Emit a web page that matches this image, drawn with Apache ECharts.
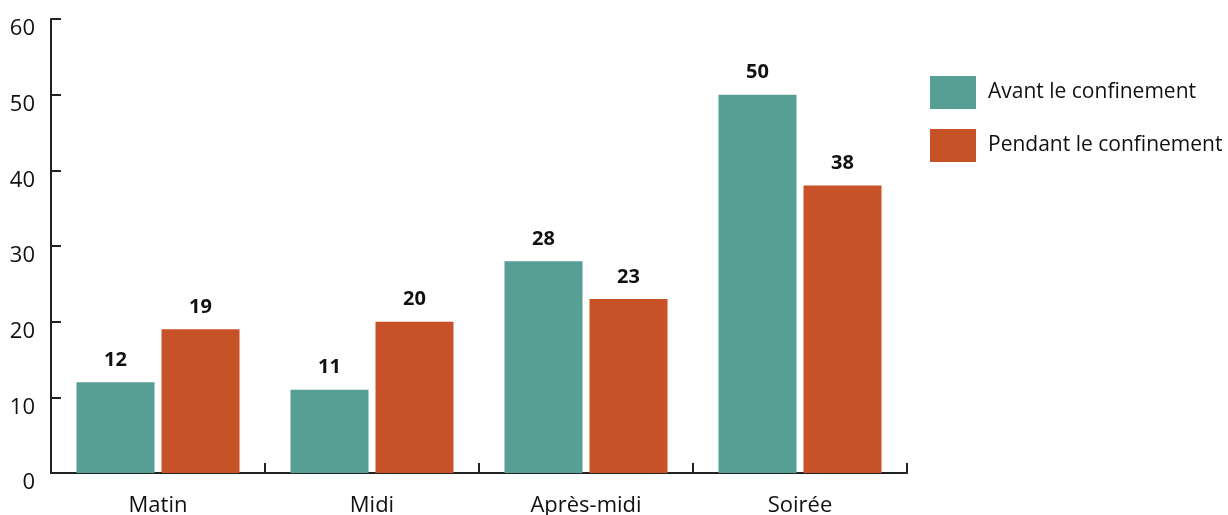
<!DOCTYPE html>
<html>
<head>
<meta charset="utf-8">
<script src="https://cdn.jsdelivr.net/npm/echarts@6/dist/echarts.min.js"></script>
<style>
  html, body { margin: 0; padding: 0; background: #fff; }
  #chart { width: 1228px; height: 515px; }
</style>
</head>
<body>
<div id="chart"></div>
<script>
const categories = ['Matin', 'Midi', 'Après-midi', 'Soirée']
const avant = [12, 11, 28, 50]
const pendant = [19, 20, 23, 38]
const seriesNames = ['Avant le confinement', 'Pendant le confinement']

const font = '"Open Sans", "Noto Sans", sans-serif'
const chart = echarts.init(document.getElementById('chart'))

const barLabel = {
  show: true,
  position: 'top',
  distance: 12,
  fontFamily: font,
  fontWeight: 'bold',
  fontSize: 20,
  color: '#111',
}

chart.setOption({
  animation: false,
  textStyle: { fontFamily: font },
  grid: {
    left: 51,
    right: 321,
    top: 19,
    bottom: 42,
    containLabel: false,
    outerBoundsMode: 'none',
  },
  legend: {
    orient: 'vertical',
    left: 925,
    top: 71,
    itemWidth: 46,
    itemHeight: 33,
    itemGap: 20,
    icon: 'rect',
    textStyle: { fontSize: 21, color: '#111', fontFamily: font, padding: [0, 0, 0, 7] },
    data: seriesNames,
  },
  xAxis: {
    type: 'category',
    data: categories,
    axisLine: { lineStyle: { color: '#222', width: 2 } },
    axisTick: { show: true, inside: true, length: 10, lineStyle: { color: '#222', width: 2 } },
    axisLabel: { fontSize: 22, color: '#111', margin: 22, fontFamily: font },
  },
  yAxis: {
    type: 'value',
    min: 0,
    max: 60,
    interval: 10,
    splitLine: { show: false },
    axisLine: { show: true, lineStyle: { color: '#222', width: 2 } },
    axisTick: { show: true, inside: true, length: 10, lineStyle: { color: '#222', width: 2 } },
    axisLabel: {
      fontSize: 22,
      color: '#111',
      margin: 16,
      fontFamily: font,
      verticalAlign: 'top',
      lineHeight: 20,
    },
  },
  series: [
    {
      name: seriesNames[0],
      type: 'bar',
      data: avant,
      barWidth: 78,
      barGap: '9%',
      itemStyle: { color: '#579E94' },
      label: barLabel,
    },
    {
      name: seriesNames[1],
      type: 'bar',
      data: pendant,
      barWidth: 78,
      barGap: '9%',
      itemStyle: { color: '#C85227' },
      label: barLabel,
    },
  ],
})
</script>
</body>
</html>
